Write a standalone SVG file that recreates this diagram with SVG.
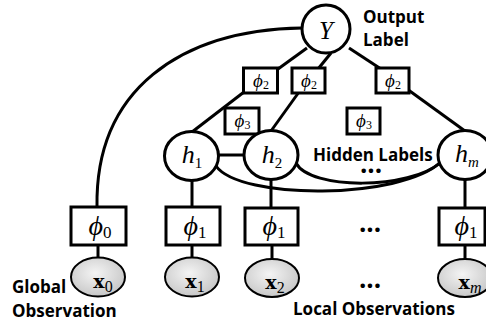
<svg xmlns="http://www.w3.org/2000/svg" width="486" height="324" viewBox="0 0 486 324">
<defs>
<radialGradient id="gray" cx="0.45" cy="0.4" r="0.65">
<stop offset="0" stop-color="#f4f4f4"/>
<stop offset="1" stop-color="#c4c4c4"/>
</radialGradient>
<style>
.ln{fill:none;stroke:#000;stroke-width:3}
.nd{fill:#fff;stroke:#000;stroke-width:3}
.ob{fill:url(#gray);stroke:#000;stroke-width:2}
.bx{fill:#fff;stroke:#000;stroke-width:3}
.m{font-family:"Liberation Serif","DejaVu Serif",serif;fill:#000}
.it{font-style:italic}
.lb{font-family:"Open Sans","Noto Sans",sans-serif;font-weight:bold;font-size:17px;fill:#000}
.dots{font-family:"Open Sans","Noto Sans",sans-serif;font-weight:bold;font-size:26px;fill:#000;text-anchor:middle}
.ps{font-size:28px;text-anchor:middle}
.pss{font-size:17px}
.pt{font-size:19px;text-anchor:middle}
.pts{font-size:12px}
.hl{font-size:26px;text-anchor:middle}
.hs{font-size:15px}
.xl{font-family:"DejaVu Serif","Liberation Serif",serif;font-size:19px;font-weight:bold;text-anchor:middle;fill:#000}
.xs{font-family:"Liberation Serif","DejaVu Serif",serif;font-size:16px;font-weight:normal}
</style>
</defs>
<rect width="486" height="324" fill="#fff"/>
<g id="connectors">
<path class="ln" d="M302 28 C180 30 95 90 97 207"/>
<line class="ln" x1="307" y1="48" x2="278" y2="69"/>
<line class="ln" x1="331" y1="53" x2="318" y2="69"/>
<line class="ln" x1="349" y1="48" x2="381" y2="69"/>
<line class="ln" x1="244" y1="92" x2="192" y2="132"/>
<line class="ln" x1="299" y1="92" x2="271" y2="131"/>
<line class="ln" x1="407" y1="89" x2="465" y2="131"/>
<line class="ln" x1="217" y1="155" x2="246" y2="155"/>
<path class="ln" d="M216 166 C240 200 400 200 441 162"/>
<path class="ln" d="M296 163 C310 190 410 190 441 162"/>
<line class="ln" x1="192" y1="179" x2="192" y2="207"/>
<line class="ln" x1="271" y1="178" x2="271" y2="208"/>
<line class="ln" x1="465" y1="178" x2="465" y2="208"/>
<line class="ln" x1="98" y1="245" x2="98" y2="258"/>
<line class="ln" x1="192" y1="245" x2="192" y2="258"/>
<line class="ln" x1="272" y1="245" x2="272" y2="259"/>
<line class="ln" x1="465" y1="245" x2="465" y2="259"/>
</g>
<g id="Y">
<ellipse class="nd" cx="326" cy="29" rx="24" ry="24"/>
<text class="m it" x="326" y="39" font-size="25" text-anchor="middle">Y</text>
</g>
<g id="output-label">
<text class="lb" x="363" y="23">Output</text>
<text class="lb" x="363" y="46">Label</text>
</g>
<g id="phi2-a">
<rect class="bx" x="243.5" y="68" width="34" height="25"/>
<text class="m pt" x="261" y="87"><tspan class="it">ϕ</tspan><tspan class="pts" dy="2">2</tspan></text>
</g>
<g id="phi2-b">
<rect class="bx" x="292" y="68" width="33" height="25"/>
<text class="m pt" x="309" y="87"><tspan class="it">ϕ</tspan><tspan class="pts" dy="2">2</tspan></text>
</g>
<g id="phi2-c">
<rect class="bx" x="376" y="68" width="33" height="25"/>
<text class="m pt" x="393" y="87"><tspan class="it">ϕ</tspan><tspan class="pts" dy="2">2</tspan></text>
</g>
<g id="phi3-a">
<rect class="bx" x="225" y="108" width="34" height="26"/>
<text class="m pt" x="242.5" y="127"><tspan class="it">ϕ</tspan><tspan class="pts" dy="2">3</tspan></text>
</g>
<g id="phi3-b">
<rect class="bx" x="347" y="108" width="33" height="26"/>
<text class="m pt" x="364" y="127"><tspan class="it">ϕ</tspan><tspan class="pts" dy="2">3</tspan></text>
</g>
<g id="h1">
<ellipse class="nd" cx="191.5" cy="156" rx="27" ry="24.5"/>
<text class="m hl" x="192" y="163"><tspan class="it">h</tspan><tspan class="hs" dy="5">1</tspan></text>
</g>
<g id="h2">
<ellipse class="nd" cx="271" cy="155" rx="27" ry="24.5"/>
<text class="m hl" x="272" y="163"><tspan class="it">h</tspan><tspan class="hs" dy="5">2</tspan></text>
</g>
<g id="hm">
<ellipse class="nd" cx="465" cy="155" rx="27" ry="24.5"/>
<text class="m hl it" x="467" y="162"><tspan>h</tspan><tspan class="hs" dy="5">m</tspan></text>
</g>
<g id="hidden-labels">
<text class="lb" x="313" y="161">Hidden Labels</text>
<text class="dots" x="371" y="173">...</text>
</g>
<g id="phi0">
<rect class="bx" x="71" y="207" width="55" height="38"/>
<text class="m ps" x="100" y="235"><tspan class="it">ϕ</tspan><tspan class="pss" dy="3">0</tspan></text>
</g>
<g id="phi1-a">
<rect class="bx" x="166" y="207" width="54" height="38"/>
<text class="m ps" x="195" y="235"><tspan class="it">ϕ</tspan><tspan class="pss" dy="3">1</tspan></text>
</g>
<g id="phi1-b">
<rect class="bx" x="245" y="208" width="53" height="37"/>
<text class="m ps" x="274" y="235"><tspan class="it">ϕ</tspan><tspan class="pss" dy="3">1</tspan></text>
</g>
<g id="phi1-m">
<rect class="bx" x="439" y="208" width="46" height="37"/>
<text class="m ps" x="466" y="235"><tspan class="it">ϕ</tspan><tspan class="pss" dy="3">1</tspan></text>
</g>
<text class="dots" x="370" y="232">...</text>
<g id="x0">
<ellipse class="ob" cx="98" cy="277" rx="27" ry="19.5"/>
<text class="xl" x="103" y="288">x<tspan class="xs" dy="4">0</tspan></text>
</g>
<g id="x1">
<ellipse class="ob" cx="192" cy="277" rx="27" ry="19.5"/>
<text class="xl" x="195" y="288">x<tspan class="xs" dy="4">1</tspan></text>
</g>
<g id="x2">
<ellipse class="ob" cx="272" cy="278" rx="27" ry="19"/>
<text class="xl" x="275" y="289">x<tspan class="xs" dy="4">2</tspan></text>
</g>
<g id="xm">
<ellipse class="ob" cx="465" cy="278" rx="27" ry="19"/>
<text class="xl" x="470" y="289">x<tspan class="xs it" dy="4">m</tspan></text>
</g>
<text class="dots" x="370" y="288">...</text>
<g id="global-observation">
<text class="lb" x="12" y="293">Global</text>
<text class="lb" x="12" y="317">Observation</text>
</g>
<text class="lb" x="293" y="315">Local Observations</text>
</svg>
